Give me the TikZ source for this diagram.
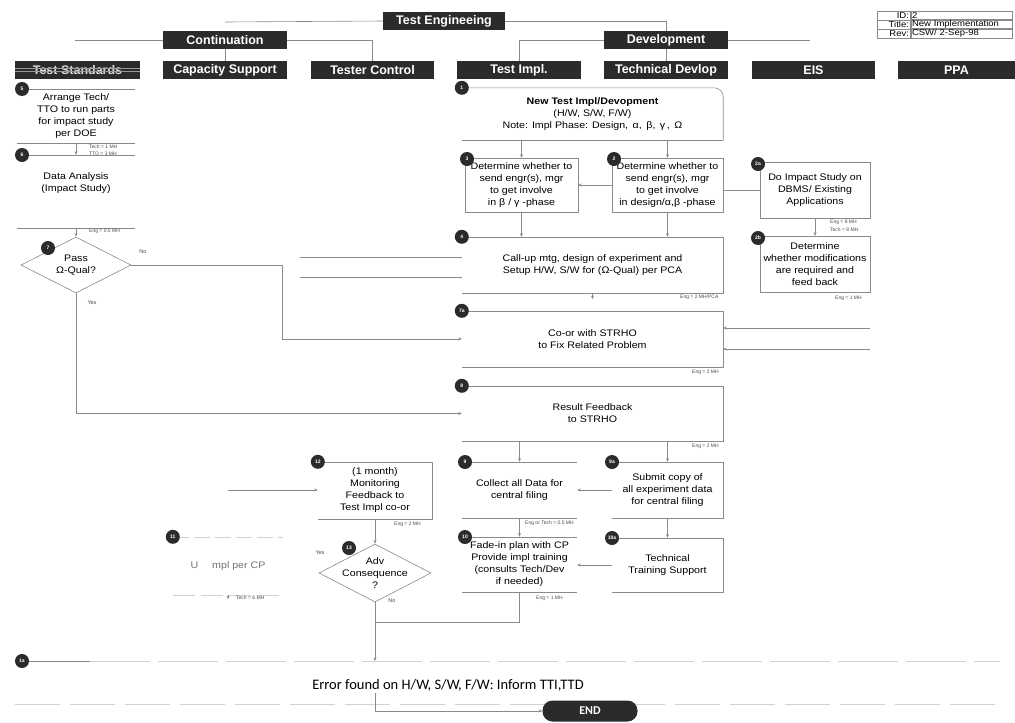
\documentclass[tikz,border=0pt]{standalone}
\usepackage{fontspec}
\setmainfont{Liberation Sans}
\newfontfamily\boxfont[FakeStretch=1.12]{Liberation Sans}
\newfontfamily\errfont{Carlito}
\usetikzlibrary{arrows.meta,shapes.geometric,calc}

\definecolor{ink}{HTML}{2B2B2B}
\definecolor{rule}{HTML}{8A8A8A}
\definecolor{faint}{HTML}{D2D2D2}

\begin{document}
\begin{tikzpicture}[x=1pt,y=-1pt,
  hdr/.style={fill=ink, text=white, font=\bfseries\fontsize{12.5}{14}\selectfont,
              minimum height=18pt, inner sep=0pt},
  bx/.style={align=center, inner sep=0pt, font=\boxfont\fontsize{9.5}{12}\selectfont},
  outline/.style={draw=rule, line width=0.6pt},
  link/.style={draw=rule, line width=0.6pt},
  arr/.style={link, -{Stealth[length=3.5pt,width=3pt]}},
  badge/.style={circle, fill=ink, text=white, minimum size=14pt, inner sep=0pt,
                font=\bfseries\fontsize{5}{5}\selectfont},
  note/.style={font=\fontsize{5}{5}\selectfont, text=black!70, inner sep=0pt, anchor=west},
  yn/.style={font=\fontsize{5.5}{6}\selectfont, text=black!70, inner sep=0pt},
  decide/.style={diamond, draw=rule, line width=0.6pt, inner sep=0pt},
  cellL/.style={draw=rule, line width=0.4pt, minimum height=9pt, text width=31pt,
                align=right, inner sep=1pt, font=\boxfont\fontsize{8.5}{8.5}\selectfont},
  cellV/.style={draw=rule, line width=0.4pt, minimum height=9pt, text width=99pt,
                align=left, inner sep=1pt, font=\boxfont\fontsize{8.5}{8.5}\selectfont},
]
\useasboundingbox (0,0) rectangle (1015,723);
\fill[white] (0,0) rectangle (1015,723);

% ---------- organisation headers ----------
\node[hdr, minimum width=122pt] (eng)  at (444,21)    {Test Engineeing};
\node[hdr, minimum width=124pt] (cont) at (225,40)    {Continuation};
\node[hdr, minimum width=124pt] (dev)  at (666,40)    {Development};
\node[hdr, minimum width=125pt, text=white!85!black] (tstd) at (77.5,70) {Test Standards};
\node[hdr, minimum width=124pt] (caps) at (225,70)    {Capacity Support};
\node[hdr, minimum width=123pt] (tctl) at (372.5,70)  {Tester Control};
\node[hdr, minimum width=124pt] (timp) at (519,70)    {Test Impl.};
\node[hdr, minimum width=124pt] (tdev) at (666,70)    {Technical Devlop};
\node[hdr, minimum width=123pt] (eis)  at (813.5,70)  {EIS};
\node[hdr, minimum width=117pt] (ppa)  at (956.5,70)  {PPA};
\draw[white!60!black, line width=0.5pt] ([yshift=1.6pt]tstd.west) -- ([yshift=1.6pt]tstd.east);
\draw[white!60!black, line width=0.5pt] ([yshift=-1.6pt]tstd.west) -- ([yshift=-1.6pt]tstd.east);

\coordinate (h0) at (225,22);
\coordinate (h1) at (75,40);
\coordinate (h2) at (810,40);
\draw[link] (h0) -- (eng.west);
\draw[link] (eng.east) -| (dev.north);
\draw[link] (h1) -- (cont.west);
\draw[link] (cont.east) -| (tctl.north);
\draw[link] (cont.south) -- (caps.north);
\draw[link] (dev.west) -| (timp.north);
\draw[link] (dev.east) -- (h2);
\draw[link] (dev.south) -- (tdev.north);

% ---------- document info ----------
\node[cellL] (idL) at (893.5,15.5) {ID:};
\node[cellV] (idV) at (961.5,15.5) {2};
\node[cellL] (tiL) at (893.5,24.5) {Title:};
\node[cellV] (tiV) at (961.5,24.5) {New Implementation};
\node[cellL] (rvL) at (893.5,33.5) {Rev:};
\node[cellV] (rvV) at (961.5,33.5) {CSW/ 2-Sep-98};

% ---------- Test Standards column ----------
\node[bx, minimum width=118pt, minimum height=54pt] (a5) at (76,116)
  {Arrange Tech/\\TTO to run parts\\for impact study\\per DOE};
\node[bx, minimum width=118pt, minimum height=73pt] (b6) at (76,191.5)
  {Data Analysis\\(Impact Study)\\[6pt]};
\node[decide, minimum width=110pt, minimum height=56pt] (d7) at (76,265) {};
\node[bx] (t7) at (d7.center) {Pass\\Ω-Qual?};

\draw[outline] (a5.north west) -- (a5.north east);
\draw[outline] (a5.south west) -- (a5.south east);
\draw[outline] (b6.north west) -- (b6.north east);
\draw[outline] (b6.south west) -- (b6.south east);
\draw[arr] (a5.south) -- (b6.north);
\draw[arr] (b6.south) -- (d7.north);

% ---------- Test Impl / Technical Devlop column ----------
\node[bx, minimum width=261pt, minimum height=52pt] (b1) at (592.5,114)
  {{\bfseries New Test Impl/Devopment}\\(H/W, S/W, F/W)\\Note: Impl Phase: Design,\, α,\, β,\, γ\,,\, Ω};
\node[bx, minimum width=113pt, minimum height=54pt] (b3) at (521.5,185)
  {Determine whether to\\send engr(s), mgr\\to get involve\\in β / γ -phase};
\node[bx, minimum width=111pt, minimum height=54pt] (b2) at (667.5,185)
  {Determine whether to\\send engr(s), mgr\\to get involve\\in design/α,β -phase};
\node[bx, minimum width=110pt, minimum height=56pt] (b2a) at (815,190)
  {Do Impact Study on\\DBMS/ Existing\\Applications};
\node[bx, minimum width=110pt, minimum height=56pt] (b2b) at (815,264)
  {Determine\\whether modifications\\are required and\\feed back};
\node[bx, minimum width=261pt, minimum height=56pt] (b4) at (592.5,265)
  {Call-up mtg, design of experiment and\\Setup H/W, S/W for (Ω-Qual) per PCA};
\node[bx, minimum width=261pt, minimum height=56pt] (b7a) at (592.5,339)
  {Co-or with STRHO\\to Fix Related Problem};
\node[bx, minimum width=261pt, minimum height=55pt] (b8) at (592.5,413.5)
  {Result Feedback\\to STRHO};
\node[bx, minimum width=115pt, minimum height=56pt] (b9) at (519.5,490)
  {Collect all Data for\\central filing};
\node[bx, minimum width=111pt, minimum height=56pt] (b9a) at (667.5,490)
  {Submit copy of\\all experiment data\\for central filing};
\node[bx, minimum width=115pt, minimum height=55pt] (b10) at (519.5,564.5)
  {Fade-in plan with CP\\Provide impl training\\(consults Tech/Dev\\if needed)};
\node[bx, minimum width=111pt, minimum height=54pt] (b10a) at (667.5,565)
  {Technical\\Training Support};

\draw[outline, rounded corners=9pt] (b1.north west) -- (b1.north east) -- (b1.south east);
\draw[outline] (b1.south east) -- (b1.south west);
\draw[outline] (b3.north west) rectangle (b3.south east);
\draw[outline] (b2.north west) rectangle (b2.south east);
\draw[outline] (b2a.north west) rectangle (b2a.south east);
\draw[outline] (b2b.north west) rectangle (b2b.south east);
\foreach \b in {b4,b7a,b8,b9a,b10a}
  \draw[outline] (\b.north west) -- (\b.north east) -- (\b.south east) -- (\b.south west);
\foreach \b in {b9,b10}
  {\draw[outline] (\b.north west) -- (\b.north east);
   \draw[outline] (\b.south west) -- (\b.south east);}

\draw[arr] (b3.north |- b1.south) -- (b3.north);
\draw[arr] (b2.north |- b1.south) -- (b2.north);
\draw[arr] (b2.west) -- (b3.east);
\draw[link] (b2a.west -| b2.east) -- (b2a.west);
\draw[arr] (b2a.south) -- (b2b.north);
\draw[arr] (b3.south) -- (b3.south |- b4.north);
\draw[arr] (b2.south) -- (b2.south |- b4.north);
\draw[arr] (b4.south) -- ++(0,6);
\draw[arr] (b9.north |- b8.south) -- (b9.north);
\draw[arr] (b9a.north |- b8.south) -- (b9a.north);
\draw[arr] (b9a.west) -- (b9a.west -| b9.east);
\draw[arr] (b9.south) -- (b10.north);
\draw[arr] (b9a.south) -- (b10a.north);
\draw[arr] (b10a.west) -- (b10a.west -| b10.east);

% feeds from the left and right
\coordinate (f1) at (300,257);
\coordinate (f2) at (300,277);
\coordinate (g1) at (870,328);
\coordinate (g2) at (870,349);
\draw[link] (f1) -- (f1 -| b4.west);
\draw[link] (f2) -- (f2 -| b4.west);
\draw[arr] (g1) -- (g1 -| b7a.east);
\draw[arr] (g2) -- (g2 -| b7a.east);
\draw[arr] (d7.east) -- ++(151,0) |- (b7a.west);
\draw[arr] (d7.south) |- (b8.west);

% ---------- Capacity Support / Tester Control ----------
\node[bx, minimum width=114pt, minimum height=57pt] (b12) at (375,490.5)
  {(1 month)\\Monitoring\\Feedback to\\Test Impl co-or};
\node[bx, text=black!55, minimum width=110pt, minimum height=58pt] (b11) at (228,566)
  {U\hspace{14pt}mpl per CP};
\node[decide, minimum width=112pt, minimum height=58pt] (d13) at (375,573) {};
\node[bx] (t13) at (d13.center) {Adv\\Consequence\\?};

\draw[outline] (b12.north west) -- (b12.north east) -- (b12.south east) -- (b12.south west);
\draw[faint, line width=0.6pt, dash pattern=on 16pt off 5pt] (b11.north west) -- (b11.north east);
\draw[faint, line width=0.6pt, dash pattern=on 22pt off 6pt] (b11.south west) -- (b11.south east);
\draw[arr] (b11.south) -- ++(0,4);

\coordinate (m1) at (228,490);
\draw[arr] (m1) -- (m1 -| b12.west);
\draw[arr] (b12.south) -- (d13.north);

% ---------- error report and end ----------
\coordinate (e0) at (90,661);
\coordinate (e1) at (1000,661);
\coordinate (e2) at (15,704);
\coordinate (e3) at (1000,704);
\coordinate (e4) at (375,693);
\draw[link] (22,661) -- (e0);
\draw[faint, line width=0.6pt, dash pattern=on 60pt off 8pt] (e0) -- (e1);
\draw[faint, line width=0.6pt, dash pattern=on 45pt off 10pt] (e2) -- (e3);

\node[font=\errfont\fontsize{14.5}{16}\selectfont, inner sep=0pt] (err) at (448,685)
  {Error found on H/W, S/W, F/W: Inform TTI,TTD};
\node[fill=ink, text=white, rounded corners=10pt, minimum width=95pt, minimum height=21pt,
      inner sep=0pt, font=\errfont\bfseries\fontsize{12}{13}\selectfont] (end) at (590,711) {END};

\draw[arr] (d13.south) -- (d13.south |- e0);
\draw[link] (b10.south) |- ($(d13.south)+(0,20)$);
\draw[arr] (e4) |- (end.west);

% ---------- effort notes and decision labels ----------
\node[note] (n1)  at (89,147)   {Tech = 1 MH};
\node[note] (n2)  at (89,154)   {TTO = 3 MH};
\node[note] (n3)  at (89,231)   {Eng = 0.5 MH};
\node[note] (n4)  at (830,222)  {Eng = 8 MH};
\node[note] (n5)  at (830,229.5){Tech = 8 MH};
\node[note] (n6)  at (835,298)  {Eng = 1 MH};
\node[note] (n7)  at (680,297)  {Eng = 2 MH/PCA};
\node[note] (n8)  at (692,372)  {Eng = 2 MH};
\node[note] (n9)  at (692,446)  {Eng = 2 MH};
\node[note] (n10) at (394,524)  {Eng = 2 MH};
\node[note] (n11) at (525,523)  {Eng or Tech = 0.5 MH};
\node[note] (n12) at (536,598)  {Eng = 1 MH};
\node[note] (n13) at (236,598)  {Tech = 6 MH};
\node[yn] (y1) at (143,252) {No};
\node[yn] (y2) at (92,303)  {Yes};
\node[yn] (y3) at (320,553) {Yes};
\node[yn] (y4) at (392,601) {No};

% ---------- step badges ----------
\node[badge] (k5)   at (22,89)    {5};
\node[badge] (k6)   at (22,155)   {6};
\node[badge] (k7)   at (48,248)   {7};
\node[badge] (k1)   at (b1.north west) {1};
\node[badge] (k3)   at (467,159)  {3};
\node[badge] (k2)   at (614,159)  {2};
\node[badge] (k2a)  at (758,164)  {2a};
\node[badge] (k2b)  at (758,238)  {2b};
\node[badge] (k4)   at (b4.north west)  {4};
\node[badge] (k7a)  at (b7a.north west) {7a};
\node[badge] (k8)   at (b8.north west)  {8};
\node[badge] (k9)   at (465,462)  {9};
\node[badge] (k9a)  at (612,462)  {9a};
\node[badge] (k10)  at (465,537)  {10};
\node[badge] (k10a) at (612,538)  {10a};
\node[badge] (k12)  at (b12.north west) {12};
\node[badge] (k13)  at (349,548)  {13};
\node[badge] (k11)  at (b11.north west) {11};
\node[badge] (k1a)  at (22,661)   {1a};
\end{tikzpicture}
\end{document}
